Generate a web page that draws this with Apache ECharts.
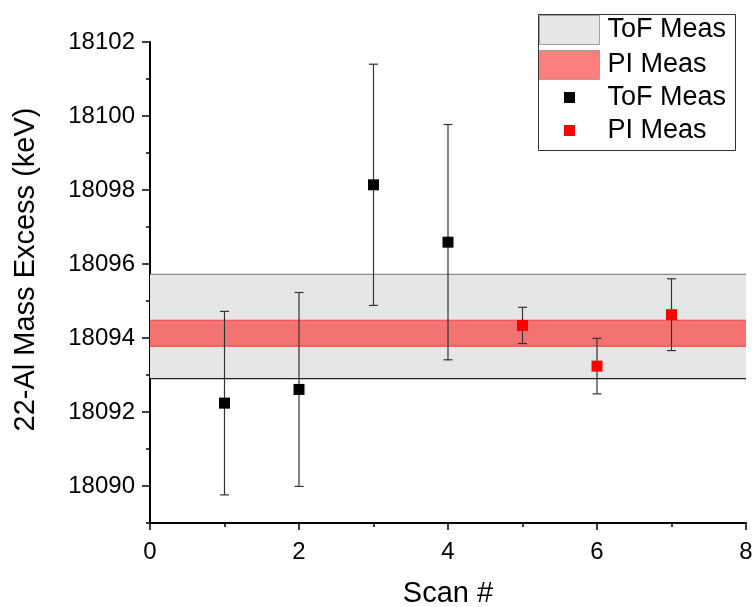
<!DOCTYPE html>
<html>
<head>
<meta charset="utf-8">
<script src="https://cdn.jsdelivr.net/npm/echarts@6/dist/echarts.min.js"></script>
<style>
html,body{margin:0;padding:0;background:#fff;}
#chart{width:752px;height:607px;}
</style>
</head>
<body>
<div id="chart"></div>
<script>
// ---- data ----
const tofScans = [1, 2, 3, 4];
const tofValues = [18092.24, 18092.61, 18098.14, 18096.59];
const tofErrors = [2.48, 2.62, 3.26, 3.18];
const piScans = [5, 6, 7];
const piValues = [18094.34, 18093.24, 18094.63];
const piErrors = [0.49, 0.75, 0.97];
const tofBand = [18092.90, 18095.72]; // low, high
const piBand = [18093.78, 18094.48];  // low, high
const yMajorTicks = [18090, 18092, 18094, 18096, 18098, 18100, 18102];
const yMinorTicks = [18089, 18091, 18093, 18095, 18097, 18099, 18101];
const xMin = 0, xMax = 8, yMin = 18089, yMax = 18102;

const FONT = "'Liberation Sans', Arial, sans-serif";

const chart = echarts.init(document.getElementById('chart'), null, {renderer: 'canvas'});

function bandSeries(name, band, fill, topColor, bottomColor, z) {
  return {
    name: name,
    type: 'custom',
    z: z,
    silent: true,
    itemStyle: {color: fill},
    data: [[band[0], band[1]]],
    renderItem: function (params, api) {
      const lo = api.value(0), hi = api.value(1);
      const p1 = api.coord([xMin, hi]);
      const p2 = api.coord([xMax, lo]);
      return {
        type: 'group',
        children: [
          {type: 'rect', shape: {x: p1[0], y: p1[1], width: p2[0] - p1[0], height: p2[1] - p1[1]},
           style: {fill: fill}},
          {type: 'line', shape: {x1: p1[0], y1: p1[1], x2: p2[0], y2: p1[1]},
           style: {stroke: topColor, lineWidth: 1.2}},
          {type: 'line', shape: {x1: p1[0], y1: p2[1], x2: p2[0], y2: p2[1]},
           style: {stroke: bottomColor, lineWidth: 1.2}}
        ]
      };
    }
  };
}

function errData(xs, vs, es) {
  return xs.map((x, i) => [x, vs[i] - es[i], vs[i] + es[i]]);
}

const errSeries = {
  type: 'custom',
  z: 5,
  silent: true,
  data: errData(tofScans, tofValues, tofErrors).concat(errData(piScans, piValues, piErrors)),
  renderItem: function (params, api) {
    const x = api.value(0);
    const lo = api.coord([x, api.value(1)]);
    const hi = api.coord([x, api.value(2)]);
    const cap = 4.5;
    const st = {stroke: '#333', lineWidth: 1.2};
    return {
      type: 'group',
      children: [
        {type: 'line', shape: {x1: lo[0], y1: lo[1], x2: hi[0], y2: hi[1]}, style: st},
        {type: 'line', shape: {x1: lo[0] - cap, y1: lo[1], x2: lo[0] + cap, y2: lo[1]}, style: st},
        {type: 'line', shape: {x1: hi[0] - cap, y1: hi[1], x2: hi[0] + cap, y2: hi[1]}, style: st}
      ]
    };
  }
};

const squarePath = 'path://M0,0L10,0L10,10L0,10Z';

const option = {
  animation: false,
  textStyle: {fontFamily: FONT},
  grid: {left: 150, right: 6, top: 42, bottom: 84, containLabel: false, outerBoundsMode: 'none'},
  xAxis: {
    type: 'value', min: xMin, max: xMax, interval: 2,
    name: 'Scan #', nameLocation: 'middle', nameGap: 56,
    nameTextStyle: {fontSize: 29, color: '#000', fontFamily: FONT},
    axisLine: {show: true, onZero: false, lineStyle: {color: '#000', width: 2}},
    axisTick: {show: true, inside: false, length: 7, lineStyle: {color: '#000', width: 1.5}},
    minorTick: {show: true, splitNumber: 2, length: 4, lineStyle: {color: '#000', width: 1.5}},
    axisLabel: {fontSize: 24, color: '#000', margin: 17, fontFamily: FONT},
    splitLine: {show: false},
    minorSplitLine: {show: false}
  },
  yAxis: [
    {
      type: 'value', min: yMin, max: yMax, position: 'left',
      name: '22-Al Mass Excess (keV)', nameLocation: 'middle', nameGap: 110,
      nameTextStyle: {fontSize: 29, color: '#000', fontFamily: FONT, padding: [0, 0, 0, 26]},
      axisLine: {show: true, onZero: false, lineStyle: {color: '#000', width: 2}},
      axisTick: {show: true, length: 8, customValues: yMajorTicks, lineStyle: {color: '#000', width: 1.5}},
      axisLabel: {fontSize: 24, color: '#000', margin: 15, customValues: yMajorTicks, fontFamily: FONT,
                  formatter: v => String(v)},
      splitLine: {show: false}
    },
    {
      type: 'value', min: yMin, max: yMax, position: 'left',
      axisLine: {show: false},
      axisTick: {show: true, length: 4, customValues: yMinorTicks, lineStyle: {color: '#000', width: 1.5}},
      axisLabel: {show: false},
      splitLine: {show: false}
    }
  ],
  legend: [
    {
      orient: 'vertical', left: 539, top: 15, padding: 0, itemGap: 5,
      itemWidth: 60, itemHeight: 29, selectedMode: false,
      formatter: name => name.replace(' band', ''),
      textStyle: {fontSize: 27, color: '#000', fontFamily: FONT, lineHeight: 29, padding: [0, 0, 0, 3]},
      data: [
        {name: 'ToF Meas band', icon: 'rect', itemStyle: {color: '#e6e6e6', borderColor: '#a0a0a0', borderWidth: 1}},
        {name: 'PI Meas band', icon: 'rect', itemStyle: {color: 'rgba(255,0,0,0.5)', borderColor: '#a0a0a0', borderWidth: 1}}
      ]
    },
    {
      orient: 'vertical', left: 564, top: 83, padding: 0, itemGap: 4,
      itemWidth: 60, itemHeight: 11, selectedMode: false,
      textStyle: {fontSize: 27, color: '#000', fontFamily: FONT, lineHeight: 29, padding: [0, 0, 0, 3]},
      data: [
        {name: 'ToF Meas', icon: squarePath, itemStyle: {color: '#000', opacity: 1}},
        {name: 'PI Meas', icon: squarePath, itemStyle: {color: '#ff0000', opacity: 1}}
      ]
    }
  ],
  graphic: [
    {type: 'rect', left: 536, top: 12, z: 100, silent: true,
     shape: {width: 197, height: 136},
     style: {fill: 'none', stroke: '#333', lineWidth: 1}}
  ],
  series: [
    bandSeries('ToF Meas band', tofBand, '#e6e6e6', '#8a8a8a', '#222', 1),
    bandSeries('PI Meas band', piBand, 'rgba(255,0,0,0.5)', '#ff4040', '#ff4040', 2),
    errSeries,
    {
      name: 'ToF Meas', type: 'scatter', z: 10, symbol: 'rect', symbolSize: 11,
      itemStyle: {color: '#000', opacity: 1},
      data: tofScans.map((x, i) => [x, tofValues[i]])
    },
    {
      name: 'PI Meas', type: 'scatter', z: 10, symbol: 'rect', symbolSize: 11,
      itemStyle: {color: '#ff0000', opacity: 1},
      data: piScans.map((x, i) => [x, piValues[i]])
    }
  ]
};
chart.setOption(option);
</script>
</body>
</html>
